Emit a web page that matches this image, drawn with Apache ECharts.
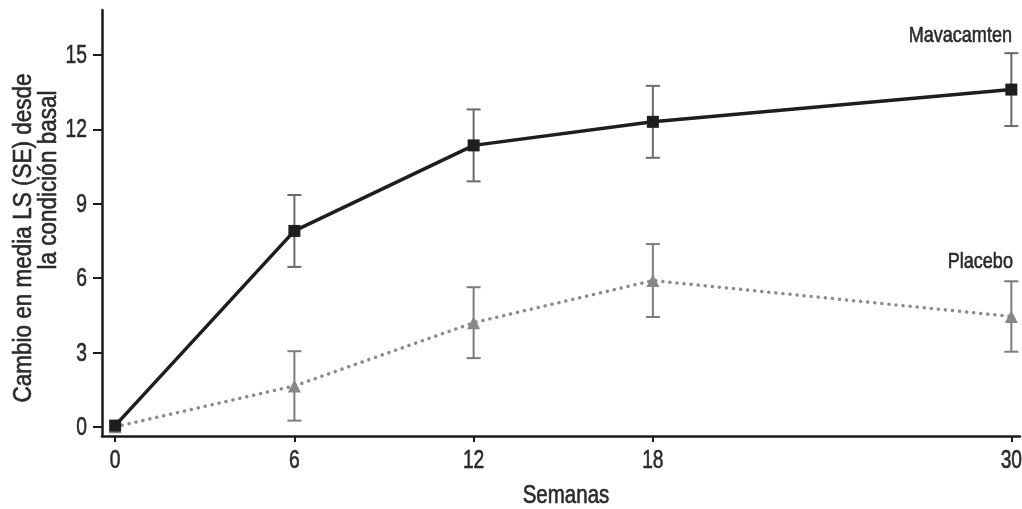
<!DOCTYPE html>
<html>
<head>
<meta charset="utf-8">
<script src="https://cdn.jsdelivr.net/npm/echarts@6/dist/echarts.min.js"></script>
<style>
  html, body { margin: 0; padding: 0; background: #fff; }
  #chart { width: 1022px; height: 509px; }
</style>
</head>
<body>
<div id="chart"></div>
<script>
// Semanas de seguimiento
const weeks = [0, 6, 12, 18, 30];
// Cambio en media LS desde la condición basal
const mavacamtenMean = [0.05, 7.9, 11.35, 12.3, 13.6];
const mavacamtenSE = [0, 1.45, 1.45, 1.45, 1.47];
const placeboMean = [0, 1.65, 4.2, 5.9, 4.45];
const placeboSE = [0, 1.4, 1.43, 1.47, 1.42];
const xTicks = [0, 6, 12, 18, 30];
const yTicks = [0, 3, 6, 9, 12, 15];
const xTitle = 'Semanas';
const yTitleLines = ['Cambio en media LS (SE) desde', 'la condición basal'];
const seriesNames = ['Mavacamten', 'Placebo'];

const FONT = "'Liberation Sans', Arial, sans-serif";
const TEXT = '#2a2a2a';
const AXIS = '#1a1a1a';

function pairs(xs, ys) { return xs.map((x, i) => [x, ys[i]]); }
function errData(xs, m, se) {
  return xs.map((x, i) => [x, m[i] - se[i], m[i] + se[i]]).filter((d, i) => se[i] > 0);
}
function errorBars(color) {
  return function (params, api) {
    const x = api.value(0);
    const lo = api.coord([x, api.value(1)]);
    const hi = api.coord([x, api.value(2)]);
    const w = 7;
    const style = { stroke: color, lineWidth: 2 };
    return {
      type: 'group',
      children: [
        { type: 'line', shape: { x1: lo[0], y1: lo[1], x2: hi[0], y2: hi[1] }, style },
        { type: 'line', shape: { x1: lo[0] - w, y1: lo[1], x2: lo[0] + w, y2: lo[1] }, style },
        { type: 'line', shape: { x1: hi[0] - w, y1: hi[1], x2: hi[0] + w, y2: hi[1] }, style }
      ]
    };
  };
}

const X_MIN = -0.44, X_MAX = 30.29, Y_MIN = -0.37, Y_MAX = 16.81;

const chart = echarts.init(document.getElementById('chart'));
chart.setOption({
  animation: false,
  backgroundColor: '#fff',
  grid: { left: 102, right: 2, top: 10, bottom: 73 },
  xAxis: {
    type: 'value',
    min: X_MIN,
    max: X_MAX,
    axisLine: { onZero: false, lineStyle: { color: AXIS, width: 2.5 } },
    axisTick: { show: true, length: 6, lineStyle: { color: AXIS, width: 2 }, customValues: xTicks },
    axisLabel: { show: false },
    splitLine: { show: false }
  },
  yAxis: {
    type: 'value',
    min: Y_MIN,
    max: Y_MAX,
    axisLine: { show: true, onZero: false, lineStyle: { color: AXIS, width: 2.5 } },
    axisTick: { show: true, length: 9, lineStyle: { color: AXIS, width: 2 }, customValues: yTicks },
    axisLabel: { show: false },
    splitLine: { show: false }
  },
  series: [
    {
      type: 'custom',
      name: 'Placebo SE',
      renderItem: errorBars('#7c7c7c'),
      data: errData(weeks, placeboMean, placeboSE),
      encode: { x: 0, y: [1, 2] },
      z: 1
    },
    {
      type: 'custom',
      name: 'Mavacamten SE',
      renderItem: errorBars('#6a6a6a'),
      data: errData(weeks, mavacamtenMean, mavacamtenSE),
      encode: { x: 0, y: [1, 2] },
      z: 1
    },
    {
      type: 'line',
      name: seriesNames[1],
      data: pairs(weeks, placeboMean),
      symbol: 'triangle',
      symbolSize: 13,
      itemStyle: { color: '#888' },
      lineStyle: { color: '#8c8c8c', width: 3.5, type: [0.1, 7], cap: 'round' },
      z: 2
    },
    {
      type: 'line',
      name: seriesNames[0],
      data: pairs(weeks, mavacamtenMean),
      symbol: 'rect',
      symbolSize: 12,
      itemStyle: { color: '#1e1e1e' },
      lineStyle: { color: '#1e1e1e', width: 3.5 },
      z: 3
    }
  ]
});

// Condensed text (tick labels, titles, series names) drawn as graphics,
// positioned through the axes' own scales.
const px = (x, y) => chart.convertToPixel({ gridIndex: 0 }, [x, y]);
function condensed(text, x, y, size, sx, align, rotation) {
  return {
    type: 'text', x, y, scaleX: sx, rotation: rotation || 0, silent: true,
    style: {
      text, fontFamily: FONT, fontSize: size, fill: TEXT,
      stroke: TEXT, lineWidth: 0.6,
      align: align || 'center', verticalAlign: 'middle'
    }
  };
}

const axisOrigin = px(X_MIN, Y_MIN);
const graphics = [];
yTicks.forEach(v => {
  const p = px(X_MIN, v);
  graphics.push(condensed(String(v), axisOrigin[0] - 15, p[1] + 1, 26, 0.74, 'right'));
});
xTicks.forEach(v => {
  const p = px(v, Y_MIN);
  graphics.push(condensed(String(v), p[0], axisOrigin[1] + 25, 26, 0.74, 'center'));
});
graphics.push(condensed(xTitle, 566, 496, 25, 0.82, 'center'));
graphics.push(condensed(yTitleLines[0], 24, 238, 25, 0.9, 'center', Math.PI / 2));
graphics.push(condensed(yTitleLines[1], 49, 180, 25, 0.9, 'center', Math.PI / 2));

const lastM = px(weeks[weeks.length - 1], mavacamtenMean[mavacamtenMean.length - 1]);
const lastP = px(weeks[weeks.length - 1], placeboMean[placeboMean.length - 1]);
graphics.push(condensed(seriesNames[0], lastM[0] - 51, lastM[1] - 54, 22, 0.82, 'center'));
graphics.push(condensed(seriesNames[1], lastP[0] - 31, lastP[1] - 55, 22, 0.82, 'center'));

chart.setOption({ graphic: graphics });
</script>
</body>
</html>
